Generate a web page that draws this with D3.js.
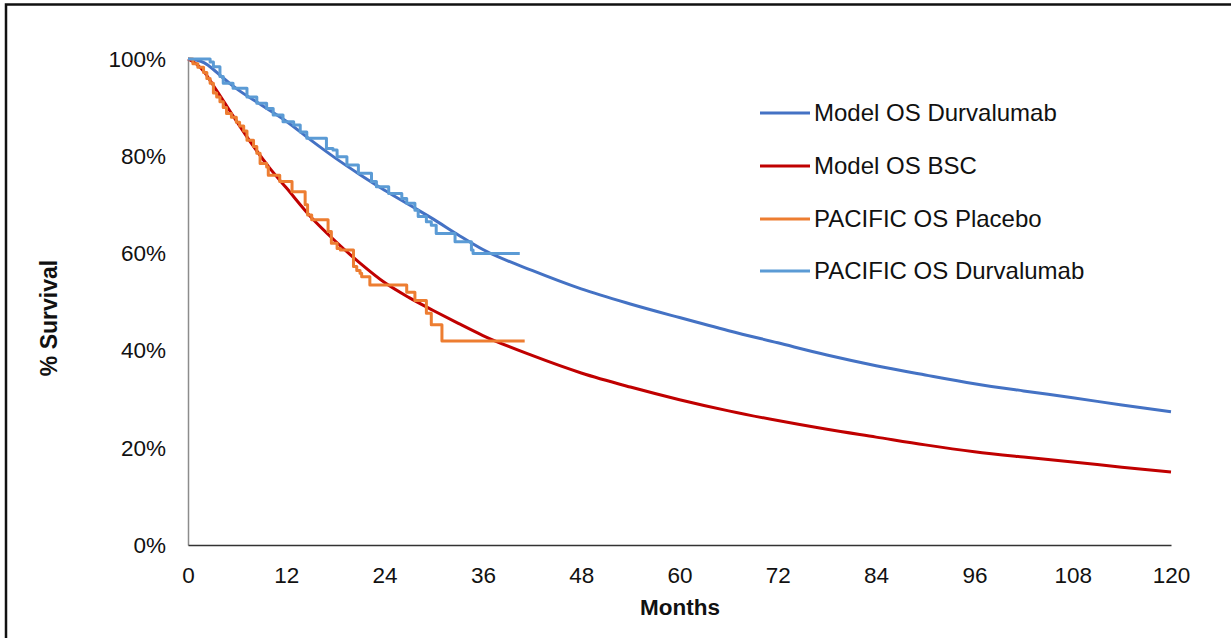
<!DOCTYPE html>
<html>
<head>
<meta charset="utf-8">
<script src="https://cdn.jsdelivr.net/npm/d3@7"></script>
<style>
  html, body { margin: 0; padding: 0; background: #fff; }
  svg { display: block; }
  text { font-family: "Liberation Sans", Arial, sans-serif; fill: #111; }
</style>
</head>
<body>
<svg id="chart" width="1231" height="638"></svg>
<script>
// ---- Data (months, % survival) ----
const xTicks = [0, 12, 24, 36, 48, 60, 72, 84, 96, 108, 120];
const yTicks = [0, 20, 40, 60, 80, 100];
const seriesNames = ["Model OS Durvalumab", "Model OS BSC", "PACIFIC OS Placebo", "PACIFIC OS Durvalumab"];

const modelDurvaMonths = [0, 1, 2, 3, 4, 6, 9, 12, 15, 18, 21, 24, 27, 30, 33, 36, 42, 48, 54, 60, 66, 72, 78, 84, 90, 96, 102, 108, 114, 120];
const modelDurvaSurv   = [100, 99.8, 99.2, 98, 96.5, 93.8, 90.5, 87.2, 83.3, 79.6, 76.2, 73, 70, 67, 63.8, 60.8, 56.5, 52.7, 49.6, 46.8, 44.1, 41.6, 39.1, 36.9, 35, 33.2, 31.7, 30.3, 28.8, 27.4];

const modelBscMonths = [0, 1, 2, 3, 4, 5, 6, 8, 10, 12, 15, 18, 21, 24, 27, 30, 33, 36, 42, 48, 54, 60, 66, 72, 78, 84, 90, 96, 102, 108, 114, 120];
const modelBscSurv   = [100, 99, 97.3, 94.8, 92.2, 89.6, 87, 82, 77.5, 73.5, 67.5, 62.5, 58, 54, 50.9, 48.2, 45.6, 43.1, 39, 35.4, 32.5, 29.9, 27.6, 25.6, 23.8, 22.2, 20.6, 19.2, 18.1, 17.1, 16.0, 15.0];

// Kaplan-Meier step points: survival holds from this month until the next
const placeboMonths = [0, 0.6, 1.2, 1.9, 2.3, 2.7, 3.1, 3.5, 3.9, 4.3, 4.7, 5.3, 5.9, 6.3, 6.8, 7.2, 8.0, 8.4, 8.8, 9.6, 9.8, 11.2, 12.7, 14.3, 14.6, 15.1, 17.1, 17.5, 18.2, 18.6, 20.2, 20.6, 21.0, 21.2, 22.2, 26.7, 27.7, 29.1, 29.7, 31.0, 41.1];
const placeboSurv   = [100, 99, 98.3, 97.2, 96, 95, 93, 92.2, 91.2, 90, 88.8, 88, 87, 86.2, 85.2, 83.3, 82, 80.6, 78.5, 77.8, 76.1, 74.8, 72.7, 70, 67.9, 66.9, 64.5, 62.1, 61, 60.7, 57.3, 56.5, 55.9, 55.2, 53.5, 52.0, 50.3, 47.7, 45.3, 42.0, 42.0];

const pacDurvaMonths = [0, 2.7, 3.1, 3.9, 4.3, 5.5, 7.2, 8.4, 9.6, 10.4, 11.6, 12.9, 13.7, 14.5, 16.9, 17.7, 18.2, 19.4, 20.8, 22.4, 23.0, 24.5, 26.1, 26.7, 27.7, 28.1, 29.1, 29.7, 30.3, 32.6, 34.6, 34.8, 40.5];
const pacDurvaSurv   = [100, 99.4, 98.4, 96.4, 95, 94, 92.2, 90.9, 89.8, 88.5, 87.1, 86.4, 85, 83.7, 81.6, 81.3, 79.9, 78.2, 76.5, 74.8, 73.7, 72.3, 71.3, 70.3, 68.9, 67.6, 66.5, 65.8, 64.1, 62.4, 60.7, 60.0, 60.0];

const colors = ["#4472C4", "#C00000", "#ED7D31", "#5B9BD5"];

// ---- Drawing ----
const svg = d3.select("#chart");
svg.append("rect").attr("width", 1231).attr("height", 638).attr("fill", "#fff").style("fill", "#fff");

// outer frame (partially cropped in the reference)
svg.append("rect")
  .attr("x", 6).attr("y", 4.5).attr("width", 1260).attr("height", 700)
  .attr("fill", "none").attr("stroke", "#111").attr("stroke-width", 2.5);

const x = d3.scaleLinear().domain([0, 120]).range([188, 1171]);
const y = d3.scaleLinear().domain([0, 100]).range([545, 59]);

// y axis
const gy = svg.append("g").attr("transform", "translate(188,0)")
  .call(d3.axisLeft(y).tickValues(yTicks).tickFormat(d => d + "%").tickSize(0).tickPadding(22));
gy.select(".domain").attr("stroke", "#8c8c8c").attr("stroke-width", 1.5);
gy.selectAll("text").style("font-size", "22.5px").style("font-family", "'Liberation Sans', Arial, sans-serif").attr("fill", "#111");

// x axis
const gx = svg.append("g").attr("transform", "translate(0,545)")
  .call(d3.axisBottom(x).tickValues(xTicks).tickSize(0).tickPadding(22));
gx.select(".domain").attr("stroke", "#333").attr("stroke-width", 1.5);
gx.selectAll("text").style("font-size", "22.5px").style("font-family", "'Liberation Sans', Arial, sans-serif").attr("fill", "#111");

// axis titles
svg.append("text")
  .attr("x", 680).attr("y", 615)
  .attr("text-anchor", "middle")
  .style("font-size", "22.5px").style("font-weight", "bold")
  .text("Months");
svg.append("text")
  .attr("transform", "translate(57,318) rotate(-90)")
  .attr("text-anchor", "middle")
  .style("font-size", "23px").style("font-weight", "bold")
  .text("% Survival");

// lines
const smooth = d3.line().x(d => x(d[0])).y(d => y(d[1])).curve(d3.curveMonotoneX);
const step = d3.line().x(d => x(d[0])).y(d => y(d[1])).curve(d3.curveStepAfter);

const series = [
  { pts: d3.zip(modelDurvaMonths, modelDurvaSurv), gen: smooth, color: colors[0], w: 3 },
  { pts: d3.zip(modelBscMonths, modelBscSurv), gen: smooth, color: colors[1], w: 3 },
  { pts: d3.zip(placeboMonths, placeboSurv), gen: step, color: colors[2], w: 3 },
  { pts: d3.zip(pacDurvaMonths, pacDurvaSurv), gen: step, color: colors[3], w: 3 }
];
series.forEach(s => {
  svg.append("path")
    .attr("d", s.gen(s.pts))
    .attr("fill", "none")
    .attr("stroke", s.color)
    .attr("stroke-width", s.w)
    .attr("stroke-linejoin", "round");
});

// legend
const legendY = [113, 166, 219, 271];
const lg = svg.append("g");
seriesNames.forEach((name, i) => {
  lg.append("line")
    .attr("x1", 760).attr("x2", 810)
    .attr("y1", legendY[i]).attr("y2", legendY[i])
    .attr("stroke", colors[i]).attr("stroke-width", 3);
  lg.append("text")
    .attr("x", 814).attr("y", legendY[i])
    .attr("dy", "0.35em")
    .style("font-size", "24px")
    .text(name);
});
</script>
</body>
</html>
